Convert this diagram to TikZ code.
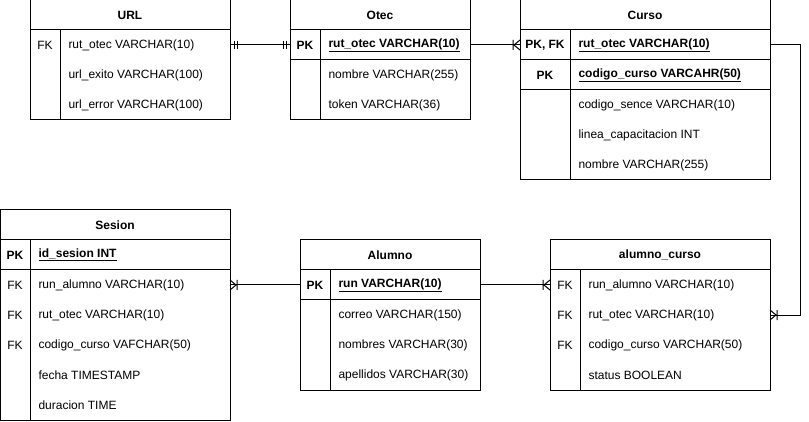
\documentclass[tikz,border=0pt]{standalone}
\usepackage{fontspec}
\setmainfont{Liberation Sans}
\begin{document}
\begin{tikzpicture}[x=1pt,y=-1pt,line width=1pt,
  every node/.style={font=\fontsize{12}{14}\selectfont, inner sep=0pt},
  tbl/.style={draw, anchor=north west, outer sep=0pt},
  bold/.style={font=\fontsize{12}{14}\selectfont\bfseries},
  field/.style={anchor=west},
  crowfoot/.pic={\draw (7,-5) -- (7,5) (0,-5) -- (6,0) -- (0,5);},
  mandone/.pic={\draw (4,-4) -- (4,4) (7,-4) -- (7,4);}]
\useasboundingbox (0,0) rectangle (809,422);

% URL
\node[tbl, minimum width=200pt, minimum height=120pt] (url) at (30,0) {};
\draw (30,30) -- (230,30);
\draw (60,30) -- (60,120);
\node[bold] (urlh) at (130,15) {URL};
\node (urlk1) at (45,45) {FK};
\node[field] (url1) at (68,45) {rut\_otec VARCHAR(10)};
\node[field] (url2) at (68,75) {url\_exito VARCHAR(100)};
\node[field] (url3) at (68,105) {url\_error VARCHAR(100)};

% Otec
\node[tbl, minimum width=180pt, minimum height=120pt] (otec) at (290,0) {};
\draw (290,30) -- (470,30);
\draw (290,60) -- (470,60);
\draw (320,30) -- (320,120);
\node[bold] (otech) at (380,15) {Otec};
\node[bold] (oteck1) at (305,45) {PK};
\node[field, bold] (otec1) at (328,45) {\underline{rut\_otec VARCHAR(10)}};
\node[field] (otec2) at (328,75) {nombre VARCHAR(255)};
\node[field] (otec3) at (328,105) {token VARCHAR(36)};

% Curso
\node[tbl, minimum width=250pt, minimum height=180pt] (curso) at (520,0) {};
\draw (520,30) -- (770,30);
\draw (520,60) -- (770,60);
\draw (520,90) -- (770,90);
\draw (570,30) -- (570,180);
\node[bold] (cursoh) at (645,15) {Curso};
\node[bold] (cursok1) at (545,45) {PK, FK};
\node[bold] (cursok2) at (545,75) {PK};
\node[field, bold] (curso1) at (578,45) {\underline{rut\_otec VARCHAR(10)}};
\node[field, bold] (curso2) at (578,75) {\underline{codigo\_curso VARCAHR(50)}};
\node[field] (curso3) at (578,105) {codigo\_sence VARCHAR(10)};
\node[field] (curso4) at (578,135) {linea\_capacitacion INT};
\node[field] (curso5) at (578,165) {nombre VARCHAR(255)};

% Sesion
\node[tbl, minimum width=230pt, minimum height=210pt] (sesion) at (0,210) {};
\draw (0,240) -- (230,240);
\draw (0,270) -- (230,270);
\draw (30,240) -- (30,420);
\node[bold] (sesionh) at (115,225) {Sesion};
\node[bold] (sesionk1) at (15,255) {PK};
\node (sesionk2) at (15,285) {FK};
\node (sesionk3) at (15,315) {FK};
\node (sesionk4) at (15,345) {FK};
\node[field, bold] (sesion1) at (38,255) {\underline{id\_sesion INT}};
\node[field] (sesion2) at (38,285) {run\_alumno VARCHAR(10)};
\node[field] (sesion3) at (38,315) {rut\_otec VARCHAR(10)};
\node[field] (sesion4) at (38,345) {codigo\_curso VAFCHAR(50)};
\node[field] (sesion5) at (38,375) {fecha TIMESTAMP};
\node[field] (sesion6) at (38,405) {duracion TIME};

% Alumno
\node[tbl, minimum width=180pt, minimum height=150pt] (alumno) at (300,240) {};
\draw (300,270) -- (480,270);
\draw (300,300) -- (480,300);
\draw (330,270) -- (330,390);
\node[bold] (alumnoh) at (390,255) {Alumno};
\node[bold] (alumnok1) at (315,285) {PK};
\node[field, bold] (alumno1) at (338,285) {\underline{run VARCHAR(10)}};
\node[field] (alumno2) at (338,315) {correo VARCHAR(150)};
\node[field] (alumno3) at (338,345) {nombres VARCHAR(30)};
\node[field] (alumno4) at (338,375) {apellidos VARCHAR(30)};

% alumno_curso
\node[tbl, minimum width=220pt, minimum height=150pt] (alcur) at (550,240) {};
\draw (550,270) -- (770,270);
\draw (580,270) -- (580,390);
\node[bold] (alcurh) at (660,255) {alumno\_curso};
\node (alcurk1) at (565,285) {FK};
\node (alcurk2) at (565,315) {FK};
\node (alcurk3) at (565,345) {FK};
\node[field] (alcur1) at (588,285) {run\_alumno VARCHAR(10)};
\node[field] (alcur2) at (588,315) {rut\_otec VARCHAR(10)};
\node[field] (alcur3) at (588,345) {codigo\_curso VARCHAR(50)};
\node[field] (alcur4) at (588,375) {status BOOLEAN};

% relations
\draw (url.east |- url1) -- (otec.west |- otec1);
\path (url.east |- url1) pic {mandone};
\path (otec.west |- otec1) pic[rotate=180] {mandone};

\draw (otec.east |- otec1) -- (curso.west |- curso1);
\path (curso.west |- curso1) pic[rotate=180] {crowfoot};

\draw (curso.east |- curso1) -- ++(30,0) |- (alcur.east |- alcur2);
\path (alcur.east |- alcur2) pic {crowfoot};

\draw (sesion.east |- sesion2) -- (alumno.west |- alumno1);
\path (sesion.east |- sesion2) pic {crowfoot};

\draw (alumno.east |- alumno1) -- (alcur.west |- alcur1);
\path (alcur.west |- alcur1) pic[rotate=180] {crowfoot};
\end{tikzpicture}
\end{document}
